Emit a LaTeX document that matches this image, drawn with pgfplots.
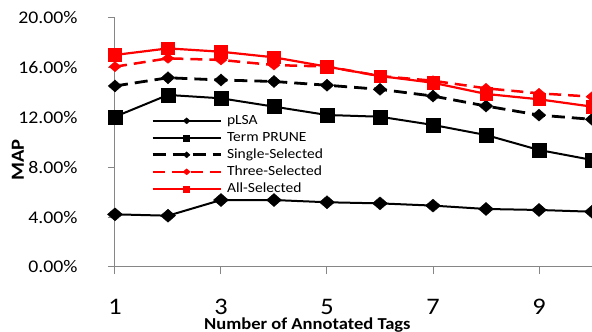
\documentclass[border=0pt]{standalone}
\usepackage{fontspec}
\setmainfont{Carlito}[FakeStretch=1.11]
\usepackage{pgfplots}
\pgfplotsset{compat=1.18}
\definecolor{axgray}{RGB}{134,134,134}
\definecolor{myred}{RGB}{255,0,0}
\begin{document}
\begin{tikzpicture}
\begin{axis}[
  scale only axis, width=477pt, height=249pt,
  xmin=1, xmax=10, ymin=0, ymax=20,
  clip=false,
  axis x line=bottom, axis y line=left,
  axis line style={-, draw=axgray, line width=1pt},
  tick style={axgray, line width=1pt},
  tick align=outside, major tick length=7pt,
  xtick={1,3,5,7,9}, ytick={0,4,...,20},
  /pgf/number format/assume math mode=true,
  yticklabel={\pgfmathprintnumber[fixed,fixed zerofill,precision=2]{\tick}\%},
  yticklabel style={font=\fontsize{17.8}{20}\selectfont, xshift=-27pt},
  xticklabel style={font=\fontsize{23.7}{26}\selectfont, yshift=-22pt},
  legend style={at={(axis cs:1.68,12.44)}, anchor=north west, draw=none, fill=none,
    font=\fontsize{14}{16}\selectfont,
    nodes={inner sep=1pt, text height=11pt, text depth=4pt},
    row sep=0pt, column sep=4pt, inner sep=0pt},
  legend cell align=left,
  legend image code/.code={\draw[mark repeat=2,mark phase=2,mark size=3pt] plot coordinates {(0pt,0pt) (34pt,0pt) (68pt,0pt)};},
]
\addplot[black, line width=2pt, mark=diamond*, mark size=6.5pt, mark options={xscale=1.54, solid, line width=0.4pt}]
  coordinates {(1,4.23)(2,4.12)(3,5.38)(4,5.38)(5,5.2)(6,5.11)(7,4.93)(8,4.66)(9,4.58)(10,4.44)};
\addlegendentry{pLSA}
\addplot[black, line width=2pt, mark=square*, mark size=7pt, mark options={solid, line width=0.4pt}]
  coordinates {(1,12.07)(2,13.82)(3,13.55)(4,12.88)(5,12.21)(6,12.07)(7,11.41)(8,10.6)(9,9.4)(10,8.6)};
\addlegendentry{Term PRUNE}
\addplot[black, line width=2.8pt, dash pattern=on 13pt off 7pt, mark=diamond*, mark size=6pt, mark options={xscale=1.5, solid, line width=0.4pt}]
  coordinates {(1,14.54)(2,15.2)(3,15.02)(4,14.9)(5,14.6)(6,14.27)(7,13.73)(8,12.93)(9,12.2)(10,11.86)};
\addlegendentry{Single-Selected}
\addplot[myred, line width=2.5pt, dash pattern=on 12pt off 7pt, mark=diamond*, mark size=5pt, mark options={xscale=1.6, solid, line width=0.4pt}]
  coordinates {(1,16.09)(2,16.76)(3,16.63)(4,16.22)(5,16.1)(6,15.34)(7,14.96)(8,14.35)(9,13.95)(10,13.68)};
\addlegendentry{Three-Selected}
\addplot[myred, line width=2.2pt, mark=square*, mark size=6.3pt, mark options={solid, line width=0.4pt}]
  coordinates {(1,17.03)(2,17.56)(3,17.29)(4,16.84)(5,16.09)(6,15.34)(7,14.8)(8,13.9)(9,13.47)(10,12.88)};
\addlegendentry{All-Selected}
\coordinate (bl) at (axis cs:1,0);
\node[font=\bfseries\fontsize{16.7}{18}\selectfont, anchor=base] at ([yshift=-63pt]axis cs:4.63,0) {Number of Annotated Tags};
\node[font=\bfseries\fontsize{18.5}{20}\selectfont, rotate=90, anchor=center] at ([xshift=-97pt]axis cs:1,8.6) {MAP};
\end{axis}
\pgfresetboundingbox
\path[use as bounding box] (bl) ++(-115pt,-65pt) rectangle ++(592pt,332pt);
\end{tikzpicture}
\end{document}
